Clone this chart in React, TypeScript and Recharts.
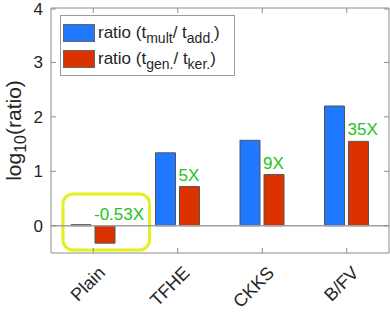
import React from "react"
import {
  BarChart,
  Bar,
  XAxis,
  YAxis,
  ReferenceLine,
  ReferenceArea,
  LabelList,
} from "recharts"

const categories = ["Plain", "TFHE", "CKKS", "B/FV"]
const multAddRatio = [0.02, 1.34, 1.57, 2.2]
const genKerRatio = [-0.32, 0.72, 0.94, 1.55]
const speedupLabels = ["-0.53X", "5X", "9X", "35X"]
const yTicks = [0, 1, 2, 3, 4]

const data = categories.map((name, i) => ({
  name,
  mult: multAddRatio[i],
  gen: genKerRatio[i],
  label: speedupLabels[i],
}))

const FONT = '"Liberation Sans", Arial, sans-serif'
const BLUE = "#1f78ff"
const RED = "#dc3200"
const GREEN = "#22c322"
const YELLOW = "#e4f01c"
const FRAME = "#8c8c8c"

const PLOT_TOP = 8
const PLOT_LEFT = 51
const PLOT_RIGHT = 389

function XTick({ x, y, payload }: any) {
  const ax = x + 13
  const ay = y + 21
  return (
    <g>
      <line x1={x} x2={x} y1={y} y2={y - 5} stroke={FRAME} />
      <line x1={x} x2={x} y1={PLOT_TOP} y2={PLOT_TOP + 5} stroke={FRAME} />
      <text
        x={ax}
        y={ay}
        textAnchor="end"
        fontSize={18}
        fontFamily={FONT}
        fill="#262626"
        transform={`rotate(-45, ${ax}, ${ay})`}
      >
        {payload.value}
      </text>
    </g>
  )
}

function YTick({ x, y, payload }: any) {
  return (
    <g>
      <line x1={PLOT_LEFT} x2={PLOT_LEFT + 5} y1={y} y2={y} stroke={FRAME} />
      <line x1={PLOT_RIGHT} x2={PLOT_RIGHT - 5} y1={y} y2={y} stroke={FRAME} />
      <text
        x={x - 8}
        y={y}
        dy={6}
        textAnchor="end"
        fontSize={17}
        fontFamily={FONT}
        fill="#262626"
      >
        {payload.value}
      </text>
    </g>
  )
}

function YLabel({ viewBox }: any) {
  const cx = viewBox.x + 21
  const cy = viewBox.y + viewBox.height / 2
  return (
    <text
      x={cx}
      y={cy}
      textAnchor="middle"
      fontSize={21}
      fontFamily={FONT}
      fill="#262626"
      transform={`rotate(-90, ${cx}, ${cy})`}
    >
      <tspan>log</tspan>
      <tspan fontSize={16} dy={5}>
        10
      </tspan>
      <tspan dy={-5}>(ratio)</tspan>
    </text>
  )
}

function SpeedupLabel({ x, y, height, value }: any) {
  const top = Math.min(y, y + height)
  return (
    <text x={x - 1} y={top - 6} fontSize={17} fontFamily={FONT} fill={GREEN}>
      {value}
    </text>
  )
}

function RoundedBox({ x, y, width, height }: any) {
  return (
    <rect
      x={x + 12}
      y={y}
      width={width + 2}
      height={height}
      rx={10}
      ry={10}
      fill="none"
      stroke={YELLOW}
      strokeWidth={3}
    />
  )
}

const sub = { fontSize: 14, position: "relative" as const, top: 5 }

function LegendBox() {
  const row = { display: "flex", alignItems: "center", height: 26 }
  const swatch = (c: string) => ({
    width: 32,
    height: 18,
    background: c,
    border: "1px solid #666",
    boxSizing: "border-box" as const,
    marginRight: 3,
  })
  return (
    <div
      style={{
        position: "absolute",
        left: 60,
        top: 15,
        width: 175,
        height: 61,
        boxSizing: "border-box",
        border: "1px solid #9a9a9a",
        background: "#fff",
        padding: "4px 0 0 2px",
        fontFamily: FONT,
        fontSize: 17,
        color: "#262626",
        whiteSpace: "nowrap",
      }}
    >
      <div style={row}>
        <span style={swatch(BLUE)} />
        <span>
          ratio (t<span style={sub}>mult</span>/ t<span style={sub}>add.</span>)
        </span>
      </div>
      <div style={row}>
        <span style={swatch(RED)} />
        <span>
          ratio (t<span style={sub}>gen.</span>/ t<span style={sub}>ker.</span>)
        </span>
      </div>
    </div>
  )
}

export default function App() {
  return (
    <div
      style={{
        position: "absolute",
        left: 0,
        top: 0,
        width: 390,
        height: 313,
        background: "#fff",
      }}
    >
      <BarChart
        width={390}
        height={313}
        data={data}
        margin={{ top: PLOT_TOP, right: 390 - PLOT_RIGHT, left: 0, bottom: 0 }}
        barGap={4}
      >
        <XAxis
          dataKey="name"
          height={60}
          axisLine={false}
          tickLine={false}
          tickSize={0}
          tickMargin={0}
          tick={<XTick />}
          interval={0}
        />
        <YAxis
          width={PLOT_LEFT}
          domain={[-0.5, 4]}
          ticks={yTicks}
          axisLine={false}
          tickLine={false}
          tickSize={0}
          tickMargin={0}
          tick={<YTick />}
          label={<YLabel />}
        />
        <ReferenceArea
          y1={-0.5}
          y2={4}
          fill="none"
          stroke={FRAME}
          strokeWidth={1}
          fillOpacity={0}
        />
        <ReferenceLine y={0} stroke="#a0a0a0" strokeWidth={1.5} />
        <ReferenceArea
          x1="Plain"
          x2="Plain"
          y1={-0.445}
          y2={0.585}
          shape={<RoundedBox />}
        />
        <Bar
          dataKey="mult"
          fill={BLUE}
          stroke="#555"
          strokeWidth={1}
          barSize={20}
          isAnimationActive={false}
        />
        <Bar
          dataKey="gen"
          fill={RED}
          stroke="#555"
          strokeWidth={1}
          barSize={20}
          isAnimationActive={false}
        >
          <LabelList dataKey="label" content={<SpeedupLabel />} />
        </Bar>
      </BarChart>
      <LegendBox />
    </div>
  )
}
